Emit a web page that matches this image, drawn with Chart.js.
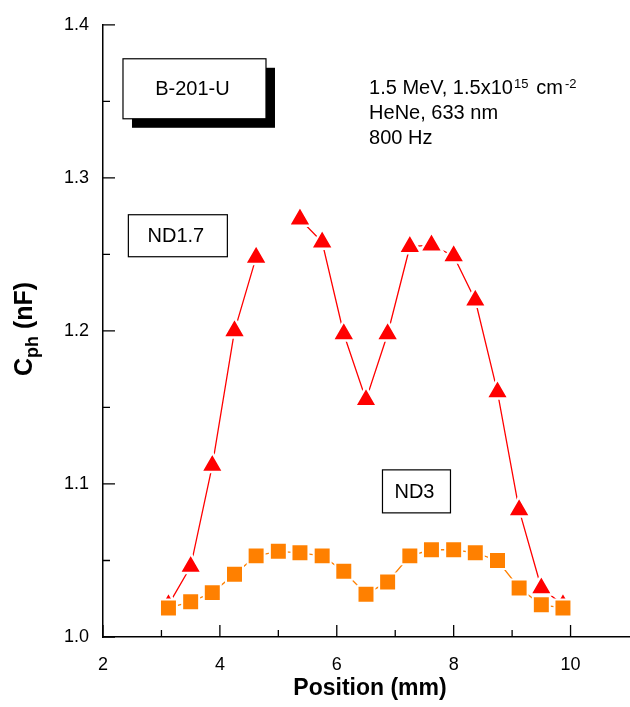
<!DOCTYPE html>
<html>
<head>
<meta charset="utf-8">
<script src="https://cdn.jsdelivr.net/npm/chart.js@4.4.1/dist/chart.umd.min.js"></script>
<style>
	html, body { margin: 0; padding: 0; background: #fff; }
	#wrap { width: 630px; height: 707px; }
</style>
</head>
<body>
<div id="wrap"><canvas id="chart" width="630" height="707"></canvas></div>
<script>
// Data
const positions = [3.12, 3.5, 3.87, 4.25, 4.62, 5.0, 5.37, 5.75, 6.12, 6.5, 6.87, 7.25, 7.62, 8.0, 8.37, 8.75, 9.12, 9.5, 9.87];
const nd17 = [1.021, 1.046, 1.112, 1.200, 1.248, null, 1.273, 1.258, 1.198, 1.155, 1.198, 1.255, 1.256, 1.249, 1.220, 1.160, 1.083, 1.032, 1.021];
const nd3 = [1.019, 1.023, 1.029, 1.041, 1.053, 1.056, 1.055, 1.053, 1.043, 1.028, 1.036, 1.053, 1.057, 1.057, 1.055, 1.050, 1.032, 1.021, 1.019];

const xTicks = [2, 4, 6, 8, 10];
const xMinor = [3, 5, 7, 9];
const yTicks = [1.0, 1.1, 1.2, 1.3, 1.4];
const yMinor = [1.05, 1.15, 1.25, 1.35];

const FONT = '"Liberation Sans", Arial, Helvetica, sans-serif';

function toPoints(ys) {
	return positions.map((x, i) => ({ x, y: ys[i] }));
}

// draw a run of [text, size, raise, gapBefore] pieces, returns end x
function drawRuns(ctx, runs, x, y, weight) {
	let cur = x;
	runs.forEach(([t, s, dy, gap]) => {
		cur += gap || 0;
		ctx.font = `${weight || ''} ${s}px ${FONT}`;
		ctx.fillText(t, cur, y + dy);
		cur += ctx.measureText(t).width;
	});
	return cur;
}

// draws inward tick marks, axis titles and the text boxes
const decorations = {
	id: 'decorations',
	afterDraw(chart) {
		const { ctx, chartArea: area, scales } = chart;
		const xs = scales.x, ys = scales.y;
		const px = v => xs.getPixelForValue(v);
		const py = v => ys.getPixelForValue(v);

		ctx.save();
		ctx.strokeStyle = '#000';
		ctx.lineWidth = 1.3;
		ctx.beginPath();
		xTicks.forEach(v => { ctx.moveTo(px(v), area.bottom); ctx.lineTo(px(v), area.bottom - 12); });
		xMinor.forEach(v => { ctx.moveTo(px(v), area.bottom); ctx.lineTo(px(v), area.bottom - 7); });
		yTicks.forEach(v => { ctx.moveTo(area.left, py(v)); ctx.lineTo(area.left + 12, py(v)); });
		yMinor.forEach(v => { ctx.moveTo(area.left, py(v)); ctx.lineTo(area.left + 7, py(v)); });
		ctx.stroke();

		ctx.fillStyle = '#000';

		// x title
		ctx.font = `bold 23px ${FONT}`;
		ctx.textAlign = 'center';
		ctx.textBaseline = 'alphabetic';
		ctx.fillText('Position (mm)', (area.left + area.right) / 2 + 4, 695);

		// y title with subscript
		ctx.save();
		ctx.translate(32, (area.top + area.bottom) / 2 - 2);
		ctx.rotate(-Math.PI / 2);
		const parts = [['C', 25, 0], ['ph', 18, 6], [' (nF)', 25, 0]];
		let total = 0;
		parts.forEach(([t, s]) => { ctx.font = `bold ${s}px ${FONT}`; total += ctx.measureText(t).width; });
		ctx.textAlign = 'left';
		drawRuns(ctx, parts, -total / 2, 0, 'bold');
		ctx.restore();

		// label boxes
		function box(label, x, y, w, h, shadow) {
			const l = px(x), t = py(y);
			if (shadow) {
				ctx.fillStyle = '#000';
				ctx.fillRect(l + shadow, t + shadow, w, h);
			}
			ctx.fillStyle = '#fff';
			ctx.fillRect(l, t, w, h);
			ctx.strokeStyle = '#000';
			ctx.lineWidth = 1.2;
			ctx.strokeRect(l, t, w, h);
			ctx.fillStyle = '#000';
			ctx.font = `20px ${FONT}`;
			ctx.textAlign = 'center';
			ctx.textBaseline = 'middle';
			ctx.fillText(label, l + w / 2 - 2, t + h / 2 + 1);
		}
		box('B-201-U', 2.342, 1.3778, 143, 60, 9);
		box('ND1.7', 2.434, 1.2759, 99, 42, 0);
		box('ND3', 6.782, 1.1092, 68, 43, 0);

		// conditions text
		ctx.textAlign = 'left';
		ctx.textBaseline = 'alphabetic';
		const tx = px(6.553), ty = py(1.3547);
		drawRuns(ctx, [['1.5 MeV, 1.5x10', 20, 0], ['15', 13, -6, 1], ['cm', 20, 0, 8], ['-2', 13, -6, 2]], tx, ty);
		ctx.font = `20px ${FONT}`;
		ctx.fillText('HeNe, 633 nm', tx, ty + 25);
		ctx.fillText('800 Hz', tx, ty + 50);
		ctx.restore();
	}
};

new Chart(document.getElementById('chart'), {
	type: 'line',
	data: {
		datasets: [
			{
				label: 'ND3',
				data: toPoints(nd3),
				borderColor: '#ff8000',
				borderWidth: 1.3,
				pointStyle: 'rect',
				pointRadius: 12,
				pointBackgroundColor: '#ff8000',
				pointBorderColor: '#ffffff',
				pointBorderWidth: 2,
				tension: 0,
			},
			{
				label: 'ND1.7',
				data: toPoints(nd17),
				borderColor: '#ff0000',
				borderWidth: 1.3,
				pointStyle: 'triangle',
				pointRadius: 13,
				pointBackgroundColor: '#ff0000',
				pointBorderColor: '#ffffff',
				pointBorderWidth: 2.5,
				spanGaps: false,
				tension: 0,
			}
		]
	},
	options: {
		responsive: false,
		animation: false,
		events: [],
		layout: { autoPadding: false, padding: { top: 22, right: 1, left: 0, bottom: 0 } },
		plugins: {
			legend: { display: false },
			tooltip: { enabled: false },
		},
		scales: {
			x: {
				type: 'linear',
				min: 2,
				max: 11,
				afterBuildTicks: s => { s.ticks = xTicks.map(v => ({ value: v })); },
				afterFit: s => { s.height = 70; s.paddingLeft = 0; s.paddingRight = 0; },
				grid: { display: true, drawOnChartArea: false, drawTicks: false },
				border: { display: true, color: '#000', width: 1.5 },
				ticks: {
					color: '#000',
					font: { family: FONT, size: 18 },
					padding: 17,
					maxRotation: 0,
					callback: v => String(v),
				},
			},
			y: {
				min: 1.0,
				max: 1.4,
				afterBuildTicks: s => { s.ticks = yTicks.map(v => ({ value: v })); },
				afterFit: s => { s.width = 103; },
				grid: { display: true, drawOnChartArea: false, drawTicks: false },
				border: { display: true, color: '#000', width: 1.5 },
				ticks: {
					color: '#000',
					font: { family: FONT, size: 18 },
					padding: 14,
					callback: v => v.toFixed(1),
				},
			}
		}
	},
	plugins: [decorations]
});
</script>
</body>
</html>
